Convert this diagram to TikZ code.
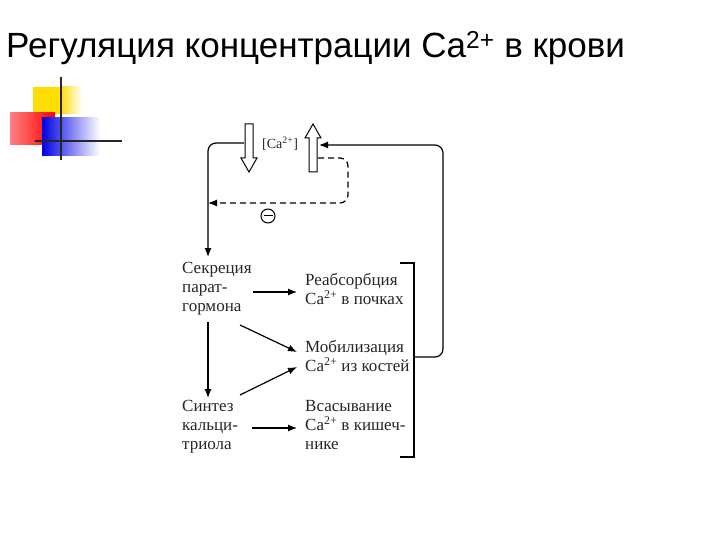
\documentclass[tikz,border=0pt]{standalone}
\usepackage{fontspec}
\setmainfont{Liberation Serif}
\newfontfamily\titlefont{Liberation Sans}
\usetikzlibrary{arrows.meta}
\begin{document}
\begin{tikzpicture}[x=1pt,y=-1pt,
  lbl/.style={anchor=west,font=\fontsize{17}{19}\selectfont,inner sep=0pt,text=black!85},
  conn/.style={line width=1.2pt,-{Latex[length=9pt,width=7pt]}},
  hollow/.style={line width=1pt,fill=white}]
\useasboundingbox (0,0) rectangle (720,540);
\fill[white] (0,0) rectangle (720,540);
\node[anchor=base west,inner sep=0pt,font=\titlefont\fontsize{35}{36}\selectfont] (title) at (6,58) {Регуляция концентрации Ca\textsuperscript{2+} в крови};
% decoration
\fill[yellow!80!orange] (33,87) rectangle (62,114);
\shade[left color=yellow!70!orange,right color=white] (60,87) rectangle (82,114);
\shade[left color=red!50!white,right color=red] (10,113) rectangle (55,145);
\shade[left color=blue!90!black,right color=white] (42,118) rectangle (100,156);
\draw[line width=2pt,black!85] (61,77) -- (61,160);
\draw[line width=1.5pt,black!85] (35,141) -- (122,141);
% hollow arrows
\draw[hollow] (245,124) -- (253,124) -- (253,158) -- (257,158) -- (249,172) -- (241,158) -- (245,158) -- cycle;
\draw[hollow] (309,172) -- (317,172) -- (317,138) -- (321,138) -- (313,124) -- (305,138) -- (309,138) -- cycle;
\node[lbl,font=\fontsize{14}{16}\selectfont] (ca) at (262,144) {[Ca\textsuperscript{2+}]};
\coordinate (down) at (244,143);
\coordinate (up) at (319,145);
\coordinate (upd) at (318,158);
% labels
\node[lbl,align=left,anchor=north west] (sec) at (182,262) {Секреция\\парат-\\гормона};
\node[lbl,align=left,anchor=north west] (syn) at (182,400) {Синтез\\кальци-\\триола};
\node[lbl,align=left,anchor=north west] (reab) at (305,273) {Реабсорбция\\Ca\textsuperscript{2+} в почках};
\node[lbl,align=left,anchor=north west] (mob) at (305,340) {Мобилизация\\Ca\textsuperscript{2+} из костей};
\node[lbl,align=left,anchor=north west] (abs) at (305,400) {Всасывание\\Ca\textsuperscript{2+} в кишеч-\\нике};
% main loop
\draw[conn,rounded corners=8pt] (down) -- (208,143) -- (208,257);
\coordinate (dashend) at (208,203);
\draw[conn,dashed,dash pattern=on 6pt off 4pt,rounded corners=8pt] (upd) -- (348,158) -- (348,203) -- (dashend);
\node[circle,draw,line width=1pt,inner sep=0pt,minimum size=14pt] (minus) at (268,216) {};
\draw[line width=1pt] ([xshift=-4.5pt]minus.center) -- ([xshift=4.5pt]minus.center);
% bracket
\draw[line width=1.2pt] (400,263) -- (414,263) -- (414,457) -- (400,457);
\draw[conn,rounded corners=8pt] (414,357) -- (443,357) -- (443,145) -- (up);
% arrows
\draw[conn] (253,292) -- (297,292);
\draw[conn] (240,325) -- (297,352);
\draw[conn] (208,322) -- (208,398);
\draw[conn] (240,395) -- (297,367);
\draw[conn] (252,428) -- (297,428);
\end{tikzpicture}
\end{document}
